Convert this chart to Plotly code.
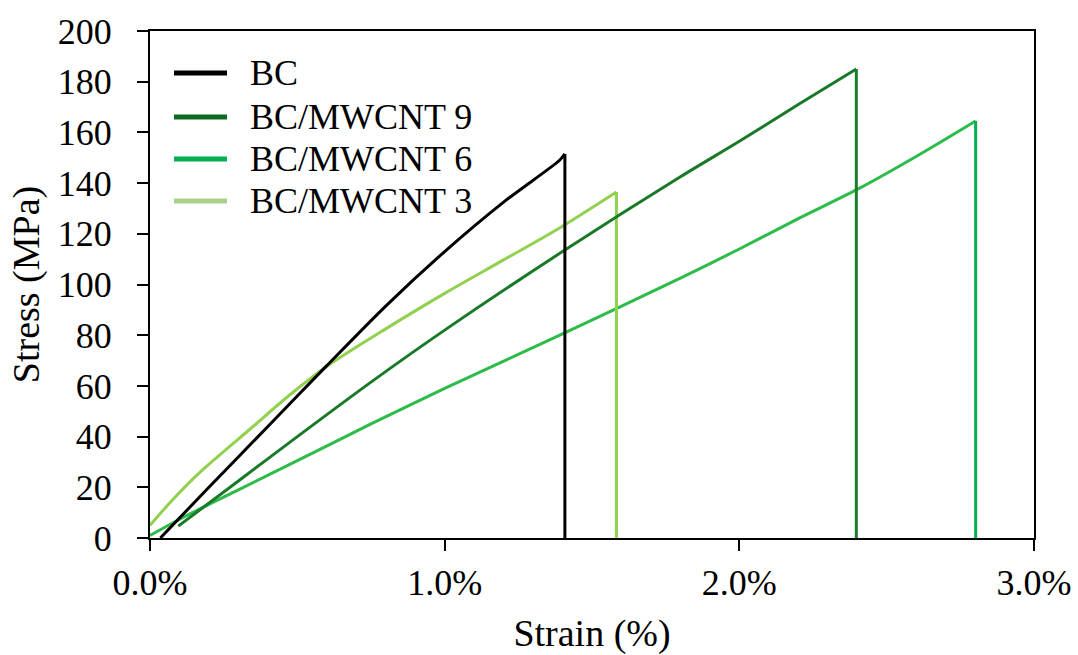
import plotly.graph_objects as go

# Stress-strain curves (strain in %, stress in MPa)
strain_bc = [0.035, 0.2, 0.4, 0.6, 0.8, 1.0, 1.2, 1.39, 1.408]
stress_bc = [0, 20, 44, 68, 91.5, 113, 132.5, 149, 151.5]

strain_9 = [0.096, 0.3, 0.5, 0.75, 1.0, 1.4, 1.8, 2.0, 2.2, 2.397]
stress_9 = [4.7, 22.5, 40, 61.5, 82, 113, 142.5, 156.5, 171, 185]

strain_6 = [0.0, 0.11, 0.3, 0.5, 0.75, 1.0, 1.4, 1.8, 2.0, 2.2, 2.4, 2.6, 2.802]
stress_6 = [1, 8, 19, 30.5, 45, 59, 80.5, 102.5, 114, 126, 137.5, 150.5, 164.5]

strain_3 = [0.0, 0.08, 0.17, 0.34, 0.475, 0.61, 0.8, 1.0, 1.2, 1.39, 1.583]
stress_3 = [5, 15.5, 26, 43, 56.5, 68.5, 82.5, 96.5, 109.7, 122.3, 136.5]

names = ["BC", "BC/MWCNT 9", "BC/MWCNT 6", "BC/MWCNT 3"]
curve_colors = ["#000000", "#187a28", "#2dbb4a", "#92d050"]
drop_colors = ["#000000", "#1a7d2d", "#00b050", "#92d050"]
legend_colors = ["#000000", "#0d6b20", "#00b050", "#a9d18e"]

x_ticks = [0, 1, 2, 3]
y_ticks = list(range(0, 201, 20))

FONT = "Liberation Serif"

series = [
    (strain_bc, stress_bc),
    (strain_9, stress_9),
    (strain_6, stress_6),
    (strain_3, stress_3),
]

fig = go.Figure()

# draw the lighter curves first so the darker ones sit on top
for i in [2, 3, 1, 0]:
    sx, sy = series[i]
    fig.add_trace(go.Scatter(
        x=sx, y=sy, mode="lines", name=names[i], showlegend=False,
        line=dict(color=curve_colors[i], width=3, shape="spline", smoothing=0.8),
    ))
    # vertical drop at failure
    fig.add_trace(go.Scatter(
        x=[sx[-1], sx[-1]], y=[sy[-1], 0], mode="lines", showlegend=False,
        line=dict(color=drop_colors[i], width=3),
    ))

# legend drawn in the upper-left of the plot area
L, R, T, B = 150, 44, 31, 117
W, H = 1078 - L - R, 655 - T - B
row_y = [73, 117, 159, 201]
for name, col, py in zip(names, legend_colors, row_y):
    yp = (655 - B - py) / H
    fig.add_shape(type="line", xref="paper", yref="paper",
                  x0=(174 - L) / W, x1=(227 - L) / W, y0=yp, y1=yp,
                  line=dict(color=col, width=5))
    fig.add_annotation(xref="paper", yref="paper", x=(248 - L) / W, y=yp,
                       text=name, showarrow=False, xanchor="left",
                       yanchor="middle", font=dict(family=FONT, size=36, color="black"))

fig.update_layout(
    width=1078, height=655,
    margin=dict(l=L, r=R, t=T, b=B),
    paper_bgcolor="white", plot_bgcolor="white",
    font=dict(family=FONT, size=36, color="black"),
)
fig.update_xaxes(
    range=[0, 3], tickvals=x_ticks,
    ticktext=[f"{v:.1f}%" for v in x_ticks],
    showgrid=False, zeroline=False, automargin=False,
    showline=True, linecolor="black", linewidth=2, mirror=True,
    ticks="outside", ticklen=11, tickwidth=2, tickcolor="black",
    ticklabelstandoff=1,
    title=dict(text="Strain (%)", font=dict(family=FONT, size=38), standoff=30),
)
fig.update_yaxes(
    range=[0, 200], tickvals=y_ticks,
    showgrid=False, zeroline=False, automargin=False,
    showline=True, linecolor="black", linewidth=2, mirror=True,
    ticks="outside", ticklen=11, tickwidth=2, tickcolor="black",
    ticklabelstandoff=18,
    title=dict(text="Stress (MPa)", font=dict(family=FONT, size=38), standoff=6),
)

fig.write_html("out.html")
